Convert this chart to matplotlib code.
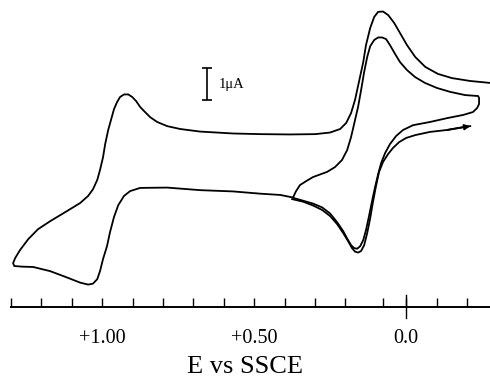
import matplotlib
matplotlib.use("Agg")
import matplotlib.pyplot as plt

plt.rcParams['font.family'] = ['Liberation Serif', 'DejaVu Serif']

# potential (V vs SSCE) and current (uA)
# main loop: right edge -> peak -> left switch -> bottom -> inner loop -> trough
E_main = [-0.276, -0.211, -0.151, -0.105, -0.063, -0.030, -0.003, 0.020, 0.039, 0.059,
          0.076, 0.092, 0.105, 0.118, 0.132, 0.141, 0.155, 0.168, 0.181, 0.197,
          0.217, 0.250, 0.299, 0.382, 0.480, 0.569, 0.678, 0.743, 0.786, 0.819,
          0.842, 0.862, 0.875, 0.888, 0.901, 0.914, 0.928, 0.941, 0.951, 0.961,
          0.970, 0.980, 0.990, 0.997, 1.007, 1.016, 1.030, 1.046, 1.072, 1.115,
          1.171, 1.211, 1.243, 1.270, 1.286, 1.293, 1.289, 1.263, 1.227, 1.171,
          1.115, 1.072, 1.046, 1.030, 1.016, 1.007, 0.997, 0.984, 0.974, 0.961,
          0.947, 0.928, 0.908, 0.875, 0.786, 0.678, 0.569, 0.480, 0.414, 0.372,
          # inner loop, going negative
          0.362, 0.349, 0.329, 0.306, 0.283, 0.260, 0.234, 0.211, 0.194, 0.181,
          0.168, 0.158, 0.148, 0.138, 0.128, 0.118, 0.105, 0.092, 0.079, 0.066,
          0.053, 0.036, 0.020, -0.003, -0.030, -0.062, -0.102, -0.145, -0.194, -0.237,
          -0.240, -0.240, -0.234, -0.220, -0.188, -0.135, -0.079, -0.023, 0.010, 0.033,
          0.053, 0.069, 0.082, 0.092, 0.102, 0.112, 0.122, 0.132, 0.141, 0.151,
          0.161, 0.171, 0.181, 0.194, 0.207, 0.227, 0.250, 0.276, 0.306, 0.339,
          0.368]
I_main = [3.66, 3.72, 3.81, 3.94, 4.16, 4.47, 4.84, 5.22, 5.53, 5.78,
          5.89, 5.88, 5.72, 5.38, 4.84, 4.31, 3.69, 3.13, 2.72, 2.41,
          2.22, 2.11, 2.06, 2.05, 2.06, 2.08, 2.14, 2.22, 2.31, 2.44,
          2.59, 2.78, 2.91, 3.09, 3.22, 3.30, 3.30, 3.22, 3.06, 2.84,
          2.53, 2.19, 1.75, 1.34, 0.94, 0.63, 0.34, 0.13, -0.09, -0.34,
          -0.66, -0.91, -1.22, -1.56, -1.81, -1.97, -2.06, -2.08, -2.09, -2.22,
          -2.42, -2.58, -2.64, -2.61, -2.47, -2.22, -1.84, -1.44, -1.00, -0.53,
          -0.16, 0.13, 0.28, 0.38, 0.39, 0.31, 0.27, 0.20, 0.16, 0.08,
          0.28, 0.47, 0.59, 0.72, 0.80, 0.88, 1.03, 1.25, 1.56, 1.97,
          2.50, 2.91, 3.44, 4.00, 4.47, 4.81, 5.00, 5.08, 5.08, 5.03,
          4.84, 4.56, 4.31, 4.06, 3.84, 3.66, 3.50, 3.38, 3.28, 3.25,
          3.19, 3.00, 2.88, 2.75, 2.66, 2.56, 2.44, 2.34, 2.19, 2.00,
          1.75, 1.47, 1.16, 0.81, 0.41, -0.03, -0.50, -0.94, -1.25, -1.44,
          -1.52, -1.50, -1.41, -1.20, -0.97, -0.69, -0.42, -0.23, -0.11, -0.02,
          0.06]

# second pass through the first couple, ends with the arrow
E_second = [0.375, 0.339, 0.306, 0.276, 0.250, 0.227, 0.207, 0.191, 0.178, 0.168,
            0.158, 0.148, 0.138, 0.128, 0.118, 0.109, 0.099, 0.089, 0.076, 0.059,
            0.043, 0.023, 0.000, -0.030, -0.079, -0.135, -0.188, -0.211]
I_second = [0.03, -0.05, -0.17, -0.31, -0.50, -0.75, -1.03, -1.28, -1.50, -1.61,
            -1.64, -1.59, -1.41, -1.03, -0.56, -0.06, 0.44, 0.88, 1.19, 1.44,
            1.63, 1.81, 1.94, 2.03, 2.13, 2.19, 2.28, 2.31]

short_ticks = [1.30, 1.20, 1.10, 1.00, 0.90, 0.80, 0.70, 0.60, 0.50, 0.40, 0.30, 0.20, 0.075,
               0.0, -0.10, -0.20]
tick_text = {1.00: "+1.00", 0.50: "+0.50", 0.0: "0.0"}

scale_E = 0.655      # where the 1 uA bar sits
scale_I = 3.625


def plot_cv():
    fig = plt.figure(figsize=(4.9, 3.77), dpi=100)
    ax = fig.add_axes([0, 0.1857, 1, 0.8143])
    lw = 1.3
    ax.plot(E_main, I_main, color='black', linewidth=lw, solid_joinstyle='round')
    ax.plot(E_second, I_second, color='black', linewidth=lw, solid_joinstyle='round')
    ax.annotate('', xy=(E_second[-1], I_second[-1]), xytext=(E_second[-3], I_second[-3]),
                arrowprops=dict(arrowstyle='-|>', color='black', lw=lw, mutation_scale=8,
                                shrinkA=0, shrinkB=0))

    # 1 uA scale bar
    ax.errorbar([scale_E], [scale_I], yerr=0.5, fmt='none', ecolor='black', elinewidth=1.2,
                capsize=3.6, capthick=1.2)
    ax.text(scale_E - 0.037, scale_I, u"1\u03bcA", fontsize=10.5, ha='left', va='center')

    ax.set_xlim(1.336, -0.276)
    ax.set_ylim(-3.34, 6.25)
    for side in ['left', 'right', 'top']:
        ax.spines[side].set_visible(False)
    ax.spines['bottom'].set_bounds(1.30, -0.276)
    ax.spines['bottom'].set_linewidth(1.4)
    ax.set_yticks([])
    ax.set_xticks(short_ticks)
    ax.set_xticklabels([tick_text.get(t, "") for t in short_ticks], fontsize=14.5)
    ax.tick_params(axis='x', direction='in', length=6.5, width=1.0, pad=15.5)
    # the zero tick goes through the axis
    ax.plot([0, 0], [-0.037, 0.04], color='black', linewidth=1.0,
            transform=ax.get_xaxis_transform(), clip_on=False)
    ax.set_xlabel("E vs SSCE", fontsize=19, labelpad=6)
    fig.savefig("out.png", dpi=100)
    plt.close()


plot_cv()
